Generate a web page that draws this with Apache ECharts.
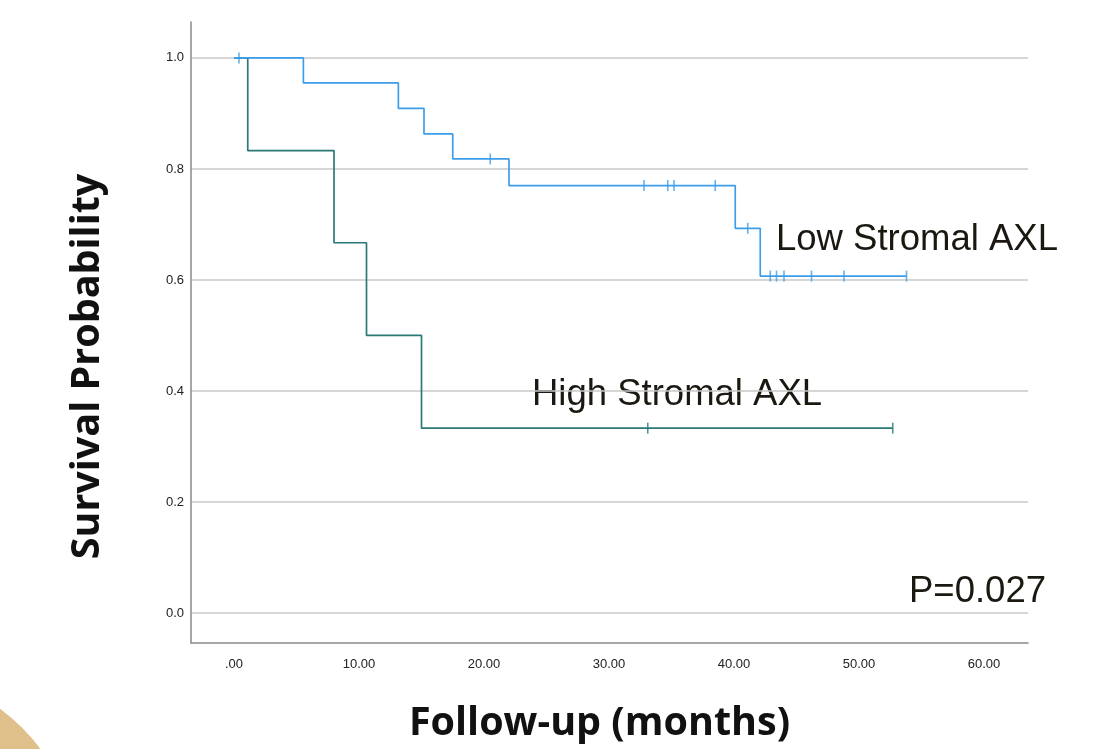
<!DOCTYPE html>
<html>
<head>
<meta charset="utf-8">
<script src="https://cdn.jsdelivr.net/npm/echarts@6/dist/echarts.min.js"></script>
<style>html,body{margin:0;padding:0;background:#fff;}#c{width:1094px;height:749px;}</style>
</head>
<body>
<div id="c"></div>
<script>
// Low Stromal AXL: event times and survival after each step
const lowTimes = [0, 5.55, 13.15, 15.2, 17.5, 22.0, 40.1, 42.1, 53.8];
const lowSurv  = [1.0, 0.955, 0.909, 0.863, 0.818, 0.770, 0.693, 0.607, 0.607];
const lowCensor = [0.4, 20.5, 32.8, 34.7, 35.2, 38.5, 41.1, 42.9, 43.4, 44.0, 46.2, 48.8, 53.8];
// High Stromal AXL
const highTimes = [0, 1.1, 8.0, 10.6, 15.0, 52.7];
const highSurv  = [1.0, 0.833, 0.667, 0.5, 0.333, 0.333];
const highCensor = [33.1, 52.7];
const xTicks = [0, 10, 20, 30, 40, 50, 60];
const yTicks = [0, 0.2, 0.4, 0.6, 0.8, 1.0];

function stepValue(times, surv, t) {
  let v = surv[0];
  for (let i = 0; i < times.length; i++) { if (times[i] <= t) v = surv[i]; }
  return v;
}
const lowLine = lowTimes.map((t, i) => [t, lowSurv[i]]);
const highLine = highTimes.map((t, i) => [t, highSurv[i]]);
const lowMarks = lowCensor.map(t => [t, stepValue(lowTimes, lowSurv, t)]);
const highMarks = highCensor.map(t => [t, stepValue(highTimes, highSurv, t)]);

const blue = '#3d9de9';
const teal = '#2b7977';
const chart = echarts.init(document.getElementById('c'), null, {renderer: 'canvas'});
chart.setOption({
  backgroundColor: '#ffffff',
  animation: false,
  grid: {left: 191, right: 66, top: 22, bottom: 105, containLabel: false},
  xAxis: {
    type: 'value', min: -3.44, max: 63.52,
    name: 'Follow-up (months)', nameLocation: 'middle', nameGap: 61,
    nameTextStyle: {fontFamily: 'Open Sans', fontWeight: 'bold', fontSize: 39.5, color: '#111', padding: [0, 20, 0, 0]},
    axisLine: {show: true, onZero: false, lineStyle: {color: '#8a8a8a', width: 1.5}},
    axisTick: {show: false, customValues: xTicks},
    axisLabel: {customValues: xTicks, margin: 15, fontFamily: 'Liberation Sans', fontSize: 13, color: '#222',
      formatter: v => v === 0 ? '.00' : v.toFixed(2)},
    splitLine: {show: false}
  },
  yAxis: {
    type: 'value', min: -0.054, max: 1.0647,
    name: 'Survival Probability', nameLocation: 'middle', nameGap: 83, nameRotate: 90,
    nameTextStyle: {fontFamily: 'Open Sans', fontWeight: 'bold', fontSize: 39.5, color: '#111', padding: [0, 68, 0, 0]},
    axisLine: {show: true, onZero: false, lineStyle: {color: '#8a8a8a', width: 1.5}},
    axisTick: {show: false, customValues: yTicks},
    axisLabel: {customValues: yTicks, margin: 7, fontFamily: 'Liberation Sans', fontSize: 13, color: '#222',
      formatter: v => v.toFixed(1)},
    splitLine: {show: true, lineStyle: {color: '#c8c8c8', width: 1.5}}
  },
  graphic: [
    {type: 'circle', shape: {cx: -120, cy: 870, r: 201}, style: {fill: '#dfc08a'}, z: -10},
    {type: 'text', left: 776, top: 221, style: {text: 'Low Stromal AXL', fontFamily: 'Liberation Sans', fontSize: 36.5, fill: '#1a1810'}},
    {type: 'text', left: 532, top: 376, style: {text: 'High Stromal AXL', fontFamily: 'Liberation Sans', fontSize: 36.5, fill: '#1a1810'}},
    {type: 'text', left: 909, top: 573, style: {text: 'P=0.027', fontFamily: 'Liberation Sans', fontSize: 36.5, fill: '#1a1810'}}
  ],
  series: [
    {type: 'line', step: 'end', data: highLine, symbol: 'none', lineStyle: {color: teal, width: 1.7}, z: 3},
    {type: 'line', step: 'end', data: lowLine, symbol: 'none', lineStyle: {color: blue, width: 1.7}, z: 4},
    {type: 'scatter', data: highMarks, symbol: 'rect', symbolSize: [1.6, 11], itemStyle: {color: teal}, z: 5},
    {type: 'scatter', data: lowMarks, symbol: 'rect', symbolSize: [1.6, 11], itemStyle: {color: blue}, z: 6}
  ]
});
</script>
</body>
</html>
